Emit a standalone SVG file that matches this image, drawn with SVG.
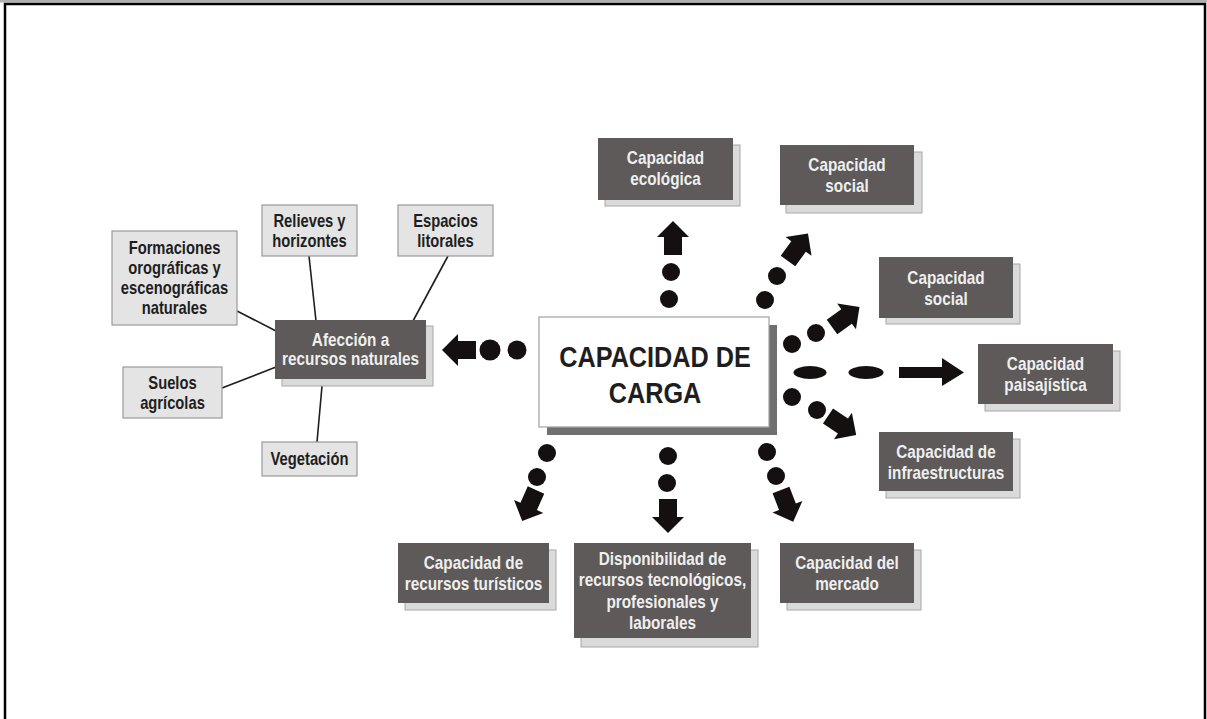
<svg xmlns="http://www.w3.org/2000/svg" width="1207" height="719" viewBox="0 0 1207 719">
<style>
.dk{fill:#5d5a59;}
.sh{fill:#dadada;stroke:#a8a8a8;stroke-width:1;}
.lt{fill:#e4e4e4;stroke:#9a9a9a;stroke-width:1.2;}
.cb{fill:#ffffff;stroke:#a0a0a0;stroke-width:1.2;}
.cs{fill:#707070;}
.t{font-family:"Liberation Sans",Arial,sans-serif;font-weight:bold;font-size:18px;text-anchor:middle;}
.big{font-size:29px;}
.tw{fill:#efefef;}
.tb{fill:#1e1e1e;}
.ln{stroke:#1e1e1e;stroke-width:1.6;fill:none;}
.dot{fill:#141010;}
</style>
<defs>
<path id="arr" d="M0,-9 H18 V-16 L34,0 L18,16 V9 H0 Z"/>
</defs>
<rect x="0" y="0" width="1207" height="2.5" fill="#b0b0b0"/>
<path d="M5,719 V4 H1205 V719" fill="none" stroke="#000" stroke-width="2.5"/>

<g id="connectors">
<line class="ln" x1="237" y1="311" x2="276" y2="331"/>
<line class="ln" x1="309" y1="256" x2="316" y2="321"/>
<line class="ln" x1="448" y1="256" x2="413" y2="321"/>
<line class="ln" x1="222" y1="388" x2="276" y2="367"/>
<line class="ln" x1="322" y1="386" x2="317" y2="442"/>
<g class="dot">
<circle cx="490" cy="350" r="10.5"/>
<circle cx="517" cy="350" r="9.5"/>
<use href="#arr" transform="translate(476 350) rotate(180)"/>
<circle cx="671" cy="272" r="9"/>
<circle cx="669" cy="299" r="9"/>
<use href="#arr" transform="translate(673 255) rotate(-90)"/>
<circle cx="777" cy="276" r="9"/>
<circle cx="765" cy="300" r="9"/>
<use href="#arr" transform="translate(788 261) rotate(-54)"/>
<circle cx="816" cy="333" r="9"/>
<circle cx="792" cy="344" r="9"/>
<use href="#arr" transform="translate(832 327) rotate(-36)"/>
<ellipse cx="810" cy="372.5" rx="16.5" ry="6.5"/>
<ellipse cx="866" cy="372.5" rx="17.5" ry="6.5"/>
<path d="M899,367 H942 V358 L964,372.5 L942,386 V378 H899 Z"/>
<circle cx="792" cy="397" r="9"/>
<circle cx="817" cy="410" r="9"/>
<use href="#arr" transform="translate(828 416) rotate(34)"/>
<circle cx="767" cy="452" r="9"/>
<circle cx="776" cy="476" r="9"/>
<use href="#arr" transform="translate(781 490) rotate(69)"/>
<circle cx="668" cy="456" r="9"/>
<circle cx="667" cy="483" r="9"/>
<use href="#arr" transform="translate(668 499) rotate(90)"/>
<circle cx="547" cy="453" r="9"/>
<circle cx="537" cy="477" r="9"/>
<use href="#arr" transform="translate(536 490) rotate(114)"/>
</g>
</g>

<g id="carga">
<rect class="cs" x="547" y="325" width="230" height="110"/>
<rect class="cb" x="539" y="317" width="230" height="110"/>
<text class="t tb big" transform="translate(655 0) scale(0.87 1)"><tspan x="0" y="367.5">CAPACIDAD DE</tspan><tspan x="0" y="403.5">CARGA</tspan></text>
</g>

<g id="afeccion">
<rect class="sh" x="282" y="326" width="151" height="60"/>
<rect class="dk" x="275" y="320" width="151" height="59"/>
<text class="t tw" transform="translate(350.5 0) scale(0.85 1)"><tspan x="0" y="346">Afección a</tspan><tspan x="0" y="365">recursos naturales</tspan></text>
</g>

<g id="formaciones">
<rect class="lt" x="112" y="231" width="125" height="94"/>
<text class="t tb" transform="translate(174.5 0) scale(0.82 1)"><tspan x="0" y="254.5">Formaciones</tspan><tspan x="0" y="274.5">orográficas y</tspan><tspan x="0" y="294.5">escenográficas</tspan><tspan x="0" y="314.5">naturales</tspan></text>
</g>

<g id="relieves">
<rect class="lt" x="262" y="205" width="95" height="51"/>
<text class="t tb" transform="translate(309.5 0) scale(0.82 1)"><tspan x="0" y="227">Relieves y</tspan><tspan x="0" y="247">horizontes</tspan></text>
</g>

<g id="espacios">
<rect class="lt" x="398" y="205" width="95" height="51"/>
<text class="t tb" transform="translate(445.5 0) scale(0.82 1)"><tspan x="0" y="227">Espacios</tspan><tspan x="0" y="247">litorales</tspan></text>
</g>

<g id="suelos">
<rect class="lt" x="123" y="367" width="99" height="51"/>
<text class="t tb" transform="translate(172.5 0) scale(0.82 1)"><tspan x="0" y="389">Suelos</tspan><tspan x="0" y="409">agrícolas</tspan></text>
</g>

<g id="vegetacion">
<rect class="lt" x="262" y="442" width="95" height="34"/>
<text class="t tb" transform="translate(309.5 0) scale(0.82 1)"><tspan x="0" y="465.5">Vegetación</tspan></text>
</g>

<g id="ecologica">
<rect class="sh" x="605" y="145" width="135" height="61"/>
<rect class="dk" x="598" y="138" width="135" height="62"/>
<text class="t tw" transform="translate(665.5 0) scale(0.85 1)"><tspan x="0" y="164.5">Capacidad</tspan><tspan x="0" y="185.5">ecológica</tspan></text>
</g>

<g id="social1">
<rect class="sh" x="786" y="152" width="136" height="61"/>
<rect class="dk" x="780" y="145" width="134" height="60"/>
<text class="t tw" transform="translate(847 0) scale(0.85 1)"><tspan x="0" y="171">Capacidad</tspan><tspan x="0" y="192">social</tspan></text>
</g>

<g id="social2">
<rect class="sh" x="886" y="264" width="134" height="60"/>
<rect class="dk" x="879" y="257" width="134" height="61"/>
<text class="t tw" transform="translate(946 0) scale(0.85 1)"><tspan x="0" y="284">Capacidad</tspan><tspan x="0" y="305">social</tspan></text>
</g>

<g id="paisajistica">
<rect class="sh" x="985" y="351" width="135" height="60"/>
<rect class="dk" x="978" y="344" width="135" height="60"/>
<text class="t tw" transform="translate(1045.5 0) scale(0.85 1)"><tspan x="0" y="370">Capacidad</tspan><tspan x="0" y="391">paisajística</tspan></text>
</g>

<g id="infraestructuras">
<rect class="sh" x="886" y="439" width="134" height="59"/>
<rect class="dk" x="879" y="432" width="134" height="59"/>
<text class="t tw" transform="translate(946 0) scale(0.85 1)"><tspan x="0" y="458">Capacidad de</tspan><tspan x="0" y="479">infraestructuras</tspan></text>
</g>

<g id="turisticos">
<rect class="sh" x="405" y="550" width="151" height="60"/>
<rect class="dk" x="398" y="543" width="151" height="60"/>
<text class="t tw" transform="translate(473.5 0) scale(0.85 1)"><tspan x="0" y="569.5">Capacidad de</tspan><tspan x="0" y="590.5">recursos turísticos</tspan></text>
</g>

<g id="disponibilidad">
<rect class="sh" x="581" y="550" width="177" height="97"/>
<rect class="dk" x="574" y="543" width="177" height="95"/>
<text class="t tw" transform="translate(662.5 0) scale(0.85 1)"><tspan x="0" y="565">Disponibilidad de</tspan><tspan x="0" y="586.5">recursos tecnológicos,</tspan><tspan x="0" y="608">profesionales y</tspan><tspan x="0" y="629.5">laborales</tspan></text>
</g>

<g id="mercado">
<rect class="sh" x="787" y="550" width="134" height="60"/>
<rect class="dk" x="780" y="543" width="134" height="60"/>
<text class="t tw" transform="translate(847 0) scale(0.85 1)"><tspan x="0" y="569">Capacidad del</tspan><tspan x="0" y="590">mercado</tspan></text>
</g>
</svg>
